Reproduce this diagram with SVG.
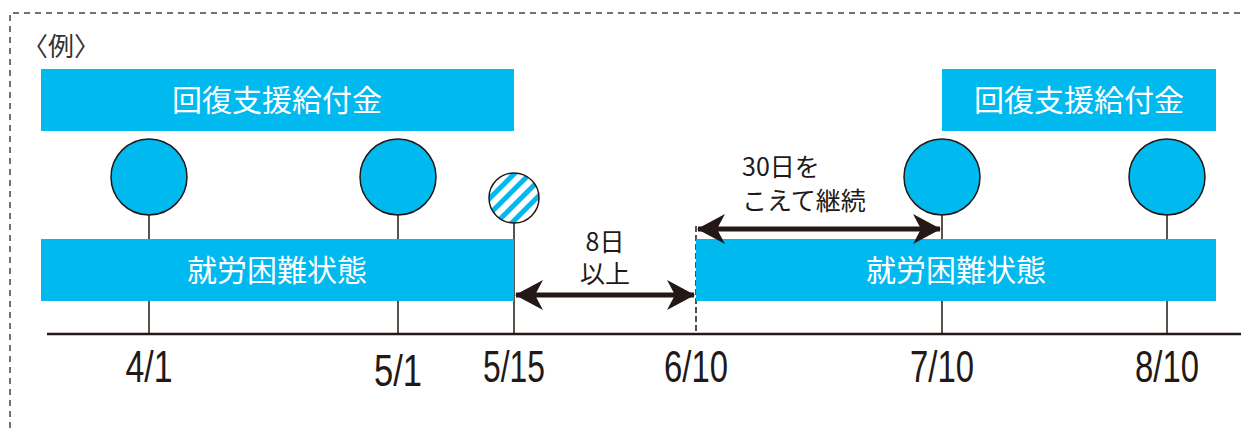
<svg xmlns="http://www.w3.org/2000/svg" width="1241" height="428" viewBox="0 0 1241 428">
<style>
.bar{fill:#00B9EF}
.bt{fill:#fff;font-family:"Noto Sans CJK JP",sans-serif;font-size:30px;text-anchor:middle}
.dot{fill:#00B9EF;stroke:#231815;stroke-width:1.5}
.stem{stroke:#231815;stroke-width:1.5}
.date{fill:#231815;font-family:"Liberation Sans",sans-serif;font-size:44px;text-anchor:middle}
.lbl{fill:#231815;font-family:"Noto Sans CJK JP",sans-serif;font-size:25px}
.arr{stroke:#231815;stroke-width:5;fill:none}
</style>
<defs>
<pattern id="hatch" patternUnits="userSpaceOnUse" width="11" height="11" patternTransform="rotate(45)">
<rect width="11" height="11" fill="#fff"/>
<rect width="5" height="11" fill="#00B9EF"/>
</pattern>
<marker id="ah" viewBox="0 0 28 30" refX="27" refY="15" markerWidth="28" markerHeight="30" markerUnits="userSpaceOnUse" orient="auto-start-reverse">
<path d="M0,0 L28,15 L0,30 L8,15 Z" fill="#231815"/>
</marker>
</defs>
<g id="frame">
<path d="M10,428 V13 H1241" fill="none" stroke="#444" stroke-width="1.5" stroke-dasharray="6,5"/>
<text x="22" y="56" font-family="Noto Sans CJK JP,sans-serif" font-size="26" fill="#333">〈例〉</text>
</g>
<g id="connectors">
<line x1="47" y1="334" x2="1241" y2="334" stroke="#231815" stroke-width="2.5"/>
<line class="stem" x1="149" y1="215" x2="149" y2="334"/>
<line class="stem" x1="398" y1="215" x2="398" y2="334"/>
<line class="stem" x1="514" y1="223" x2="514" y2="334"/>
<line class="stem" x1="696" y1="226" x2="696" y2="334" stroke-dasharray="6,3"/>
<line class="stem" x1="942" y1="215" x2="942" y2="334"/>
<line class="stem" x1="1167" y1="215" x2="1167" y2="334"/>
</g>
<g id="benefit-left"><rect class="bar" x="41" y="69" width="473" height="62"/><text class="bt" x="277" y="111">回復支援給付金</text></g>
<g id="benefit-right"><rect class="bar" x="942" y="69" width="274" height="62"/><text class="bt" x="1079" y="111">回復支援給付金</text></g>
<g id="hardship-left"><rect class="bar" x="41" y="239" width="473" height="62"/><text class="bt" x="277" y="281">就労困難状態</text></g>
<g id="hardship-right"><rect class="bar" x="696" y="239" width="520" height="62"/><text class="bt" x="956" y="281">就労困難状態</text></g>
<g id="c1"><circle class="dot" cx="149" cy="177" r="38"/></g>
<g id="c2"><circle class="dot" cx="398" cy="177" r="38"/></g>
<g id="c3"><circle cx="514" cy="198" r="25" fill="url(#hatch)" stroke="#231815" stroke-width="1.5"/></g>
<g id="c4"><circle class="dot" cx="942" cy="177" r="38"/></g>
<g id="c5"><circle class="dot" cx="1167" cy="177" r="38"/></g>
<g id="arrow-8days">
<line class="arr" x1="516" y1="295" x2="694" y2="295" marker-start="url(#ah)" marker-end="url(#ah)"/>
<text class="lbl" x="605" y="251" text-anchor="middle">8日</text>
<text class="lbl" x="605" y="283" text-anchor="middle">以上</text>
</g>
<g id="arrow-30days">
<line class="arr" x1="698" y1="229" x2="940" y2="229" marker-start="url(#ah)" marker-end="url(#ah)"/>
<text class="lbl" x="742" y="176" font-size="29">30日を</text>
<text class="lbl" x="742" y="210" font-size="29">こえて継続</text>
</g>
<g id="dates">
<text class="date" x="149" y="382" textLength="47" lengthAdjust="spacingAndGlyphs">4/1</text>
<text class="date" x="398" y="386" textLength="48" lengthAdjust="spacingAndGlyphs">5/1</text>
<text class="date" x="514" y="382" textLength="62" lengthAdjust="spacingAndGlyphs">5/15</text>
<text class="date" x="696" y="382" textLength="64" lengthAdjust="spacingAndGlyphs">6/10</text>
<text class="date" x="942" y="382" textLength="64" lengthAdjust="spacingAndGlyphs">7/10</text>
<text class="date" x="1167" y="382" textLength="64" lengthAdjust="spacingAndGlyphs">8/10</text>
</g>
</svg>
